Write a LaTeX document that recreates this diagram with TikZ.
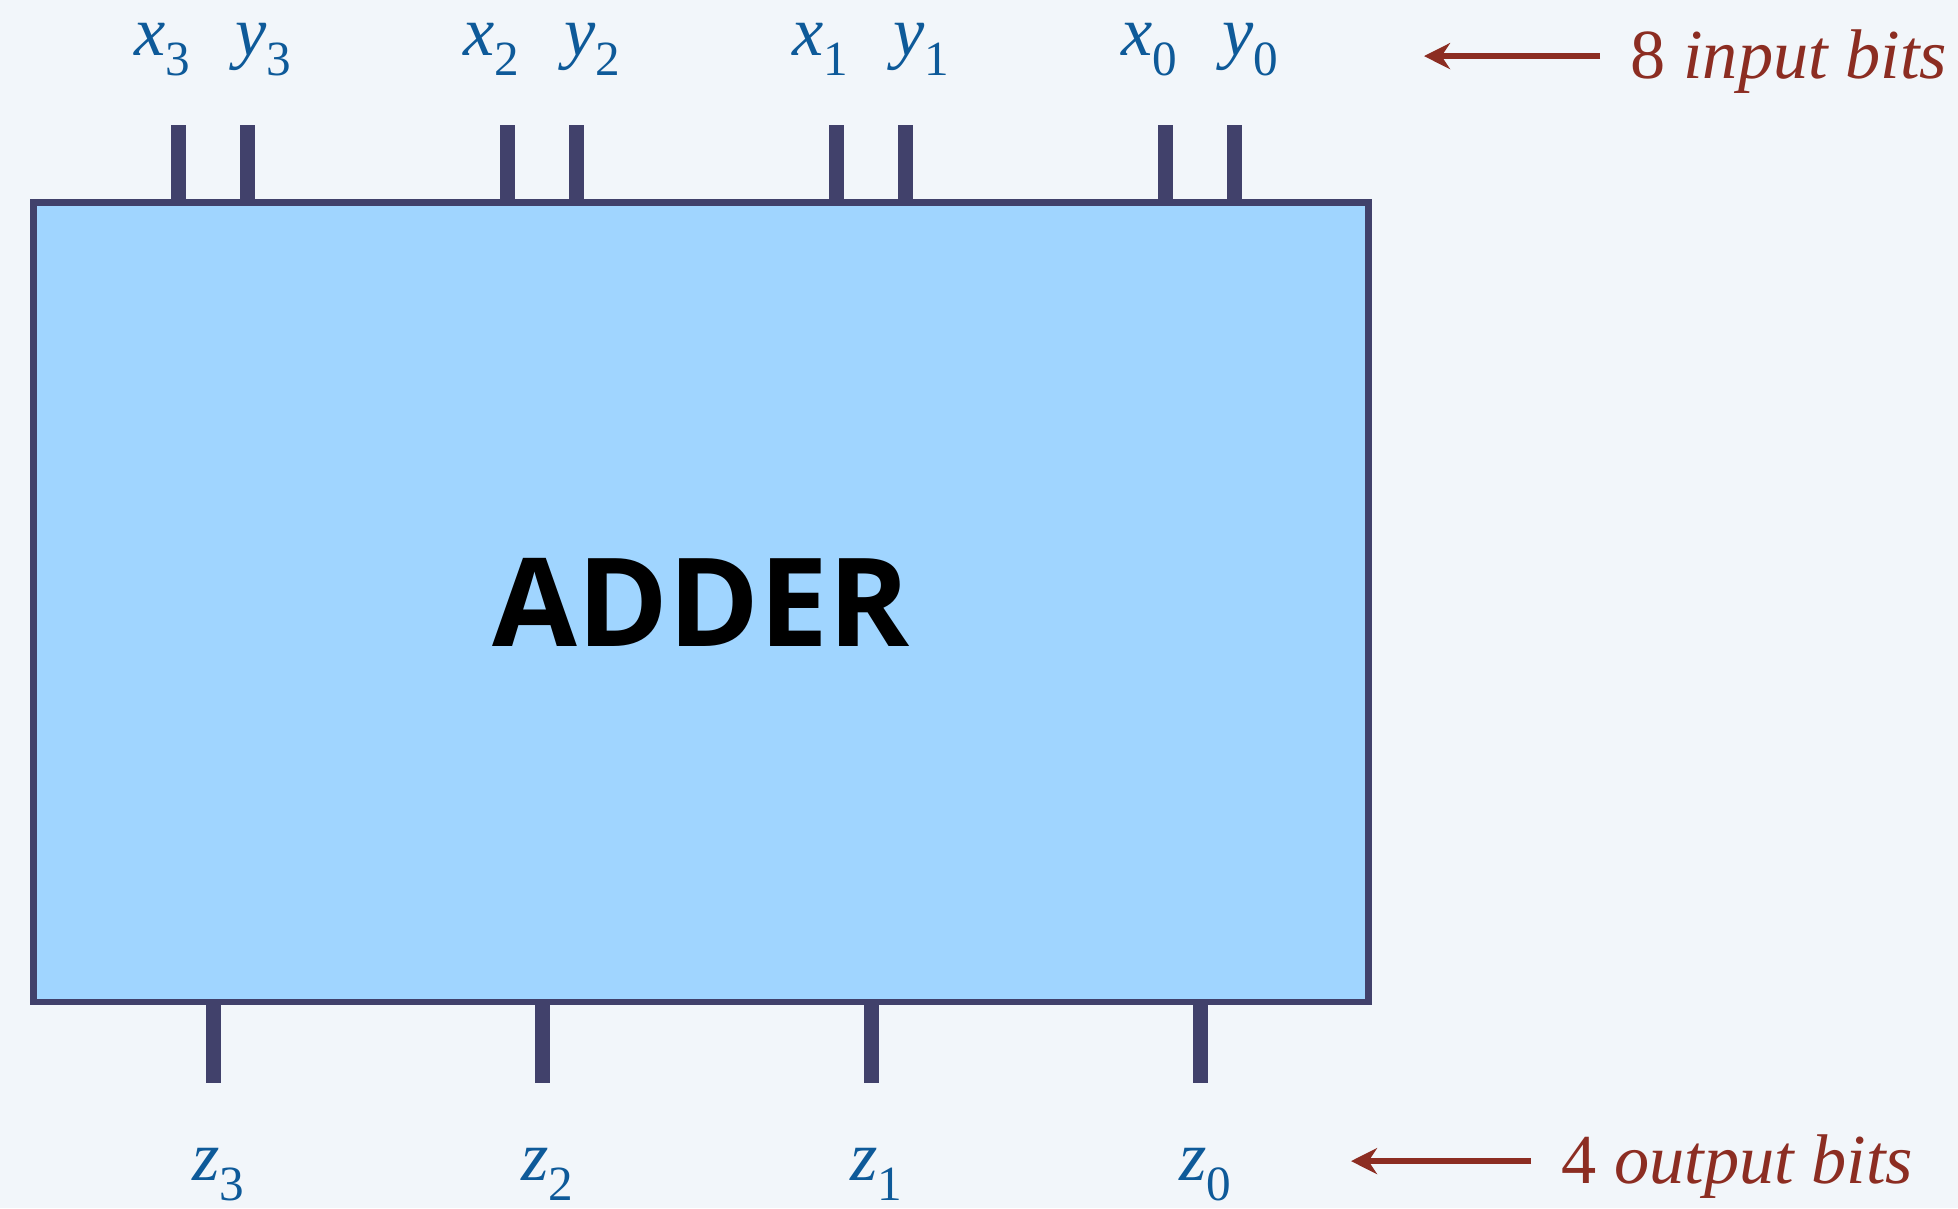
\documentclass[tikz,border=0pt]{standalone}
\usepackage{fontspec}
\setmainfont{Liberation Serif}
\newfontfamily\adderfont{Open Sans}
\usetikzlibrary{arrows.meta,calc,positioning}
\definecolor{fond}{HTML}{F2F6FA}
\definecolor{boite}{HTML}{A0D5FF}
\definecolor{wire}{HTML}{41416B}
\definecolor{bitblue}{HTML}{0E5A99}
\definecolor{note}{HTML}{8C2D22}
\newcommand\bitlbl[2]{\textit{#1}\raisebox{-2mm}{\fontsize{14}{14}\selectfont #2}}

\begin{document}
\begin{tikzpicture}[x=0.1mm, y=-0.1mm, >={Stealth[length=2.6mm,width=2.6mm]},
    font=\fontsize{20}{24}\selectfont,
    bitwire/.style={wire, line width=1.5mm},
    lbl/.style={bitblue, anchor=base, inner sep=0pt},
    notetext/.style={note, anchor=base west, inner xsep=3mm, inner ysep=0pt},
    notearrow/.style={note, line width=0.6mm, ->}]
    \path[use as bounding box, fill=fond] (0,0) rectangle (1958,1208);
    \node[draw=wire, fill=boite, line width=0.65mm, inner sep=0pt,
          minimum width=133.5mm, minimum height=79.95mm] (adder) at (701,602)
          {\adderfont\bfseries\fontsize{35}{40}\selectfont ADDER};
    % entrées x_i, y_i en haut, sorties z_i en bas
    \foreach \i/\px in {3/178.6,2/507.4,1/836.2,0/1165}{
      \coordinate (xin\i) at (\px,125);
      \coordinate (yin\i) at (\px+69,125);
      \coordinate (zout\i) at (\px+35,1082.6);
      \draw[bitwire] (adder.north -| xin\i) -- (xin\i);
      \draw[bitwire] (adder.north -| yin\i) -- (yin\i);
      \draw[bitwire] (adder.south -| zout\i) -- (zout\i);
      \node[lbl] (xlbl\i) at (\px-16,55) {\bitlbl{x}{\i}};
      \node[lbl] (ylbl\i) at (\px+85,55) {\bitlbl{y}{\i}};
      \node[lbl] (zlbl\i) at (\px+40,1180) {\bitlbl{z}{\i}};
    }
    \node[notetext] (inbits) at (1600,78) {8 \textit{input bits}};
    \node[notetext] (outbits) at (1531,1183) {4 \textit{output bits}};
    \coordinate (intip) at (1424,57);
    \coordinate (outtip) at (1351,1162);
    \draw[notearrow] ([yshift=0.5mm]inbits.west) -- ([yshift=0.5mm]inbits.west -| intip);
    \draw[notearrow] ([yshift=0.5mm]outbits.west) -- ([yshift=0.5mm]outbits.west -| outtip);
\end{tikzpicture}
\end{document}
